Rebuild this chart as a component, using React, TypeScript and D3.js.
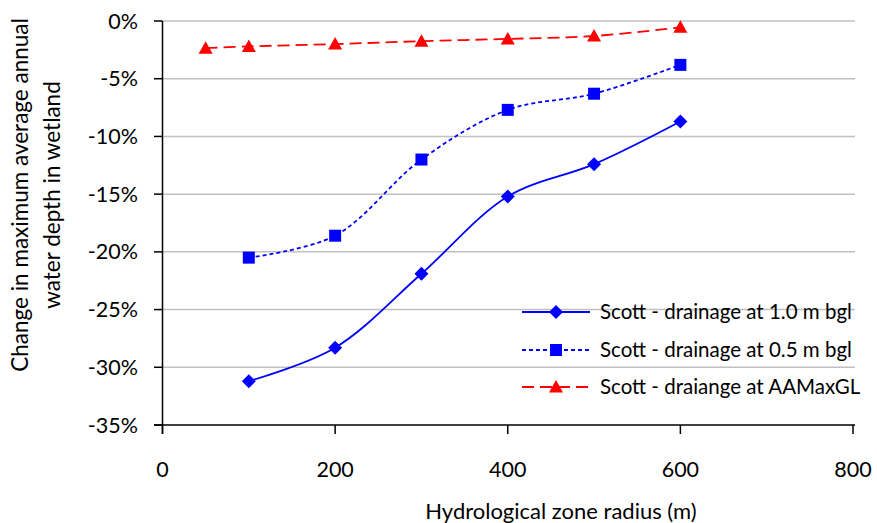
import React from "react";
import * as d3 from "d3";

const radius1 = [100, 200, 300, 400, 500, 600];
const drain10 = [-31.2, -28.3, -21.9, -15.2, -12.4, -8.7];
const radius2 = [100, 200, 300, 400, 500, 600];
const drain05 = [-20.5, -18.6, -12.0, -7.7, -6.3, -3.8];
const radius3 = [50, 100, 200, 300, 400, 500, 600];
const drainAA = [-2.35, -2.2, -2.0, -1.75, -1.55, -1.3, -0.55];
const xTicks = [0, 200, 400, 600, 800];
const yTicks = [0, -5, -10, -15, -20, -25, -30, -35];
const legendLabels = [
  "Scott - drainage at 1.0 m bgl",
  "Scott - drainage at 0.5 m bgl",
  "Scott - draiange at AAMaxGL",
];

const FONT = "Lato, 'Open Sans', sans-serif";

export default function App() {
  const W = 877, H = 523;
  const x = d3.scaleLinear().domain([0, 800]).range([162.5, 853]);
  const y = d3.scaleLinear().domain([-35, 0]).range([425, 21]);
  const line = d3
    .line<[number, number]>()
    .x((d) => x(d[0]))
    .y((d) => y(d[1]))
    .curve(d3.curveCatmullRom.alpha(0.5));
  const s1 = radius1.map((r, i) => [r, drain10[i]] as [number, number]);
  const s2 = radius2.map((r, i) => [r, drain05[i]] as [number, number]);
  const s3 = radius3.map((r, i) => [r, drainAA[i]] as [number, number]);

  const diamond = (cx: number, cy: number, k: string | number) => (
    <path key={k} d={`M${cx},${cy - 7}L${cx + 7},${cy}L${cx},${cy + 7}L${cx - 7},${cy}Z`} fill="#0000ff" />
  );
  const square = (cx: number, cy: number, k: string | number) => (
    <rect key={k} x={cx - 6} y={cy - 6} width={12} height={12} fill="#0000ff" />
  );
  const tri = (cx: number, cy: number, k: string | number) => (
    <path key={k} d={`M${cx},${cy - 7}L${cx + 7},${cy + 5.5}L${cx - 7},${cy + 5.5}Z`} fill="#ff0000" />
  );

  const legRows = [312, 350, 387];

  return (
    <svg width={W} height={H} style={{ position: "absolute", left: 0, top: 0, background: "#fff" }} fontFamily={FONT}>
      {yTicks.filter((t) => t !== -35).map((t) => (
        <line key={t} x1={x(0)} x2={855} y1={y(t)} y2={y(t)} stroke="#c0c0c0" strokeWidth={1.5} />
      ))}
      {/* axes */}
      <line x1={x(0)} x2={x(0)} y1={y(0)} y2={434} stroke="#000" strokeWidth={1.5} />
      <line x1={154} x2={855} y1={y(-35)} y2={y(-35)} stroke="#000" strokeWidth={1.5} />
      {yTicks.map((t) => (
        <g key={t}>
          <line x1={154} x2={x(0)} y1={y(t)} y2={y(t)} stroke="#000" strokeWidth={1.5} />
          <text x={138} y={y(t)} dy="0.35em" textAnchor="end" fontSize={21.5} fill="#000">
            {t}%
          </text>
        </g>
      ))}
      {xTicks.map((t) => (
        <g key={t}>
          <line x1={x(t)} x2={x(t)} y1={y(-35)} y2={434} stroke="#000" strokeWidth={1.5} />
          <text x={x(t)} y={477} textAnchor="middle" fontSize={21.5} fill="#000">
            {t}
          </text>
        </g>
      ))}
      <text x={561} y={519} textAnchor="middle" fontSize={22} fill="#000">
        Hydrological zone radius (m)
      </text>
      <text transform="translate(28,195) rotate(-90)" textAnchor="middle" fontSize={22.5} fill="#000">
        Change in maximum average annual
      </text>
      <text transform="translate(60,195) rotate(-90)" textAnchor="middle" fontSize={22.5} fill="#000">
        water depth in wetland
      </text>

      {/* series */}
      <path d={line(s3) || ""} fill="none" stroke="#ff0000" strokeWidth={1.8} strokeDasharray="12,6" />
      <path d={line(s2) || ""} fill="none" stroke="#0000ff" strokeWidth={1.8} strokeDasharray="4,3" />
      <path d={line(s1) || ""} fill="none" stroke="#0000ff" strokeWidth={1.8} />
      {s1.map((d, i) => diamond(x(d[0]), y(d[1]), "d" + i))}
      {s2.map((d, i) => square(x(d[0]), y(d[1]), "s" + i))}
      {s3.map((d, i) => tri(x(d[0]), y(d[1]), "t" + i))}

      {/* legend */}
      <line x1={522} x2={590} y1={legRows[0]} y2={legRows[0]} stroke="#0000ff" strokeWidth={1.8} />
      {diamond(556, legRows[0], "ld")}
      <line x1={522} x2={590} y1={legRows[1]} y2={legRows[1]} stroke="#0000ff" strokeWidth={1.8} strokeDasharray="4,3" />
      {square(556, legRows[1], "ls")}
      <line x1={522} x2={590} y1={legRows[2]} y2={legRows[2]} stroke="#ff0000" strokeWidth={1.8} strokeDasharray="12,6" />
      {tri(556, legRows[2], "lt")}
      {legendLabels.map((l, i) => (
        <text key={l} x={600} y={legRows[i]} dy="0.35em" fontSize={20.5} fill="#000">
          {l}
        </text>
      ))}
    </svg>
  );
}
